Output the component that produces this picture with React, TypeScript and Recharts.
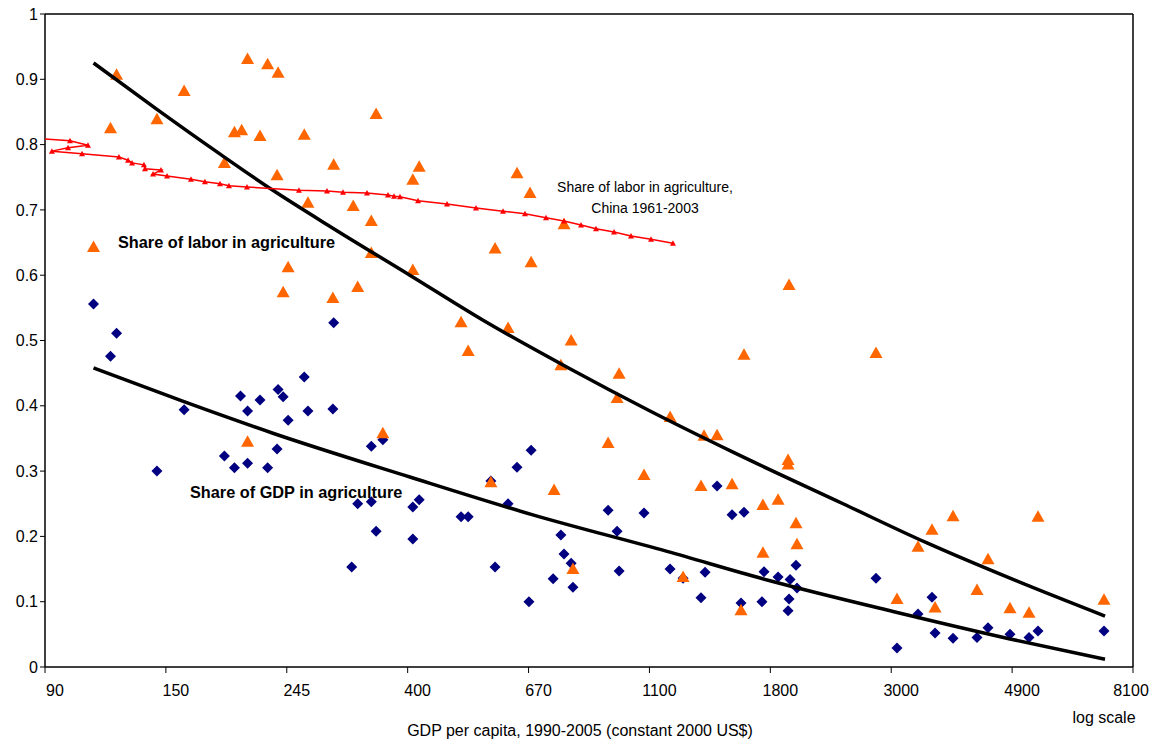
import React from 'react';
import { ScatterChart, Scatter, XAxis, YAxis, ReferenceLine } from 'recharts';

// x axis (log scale), tick labels as printed
const xTickLabels = ['90', '150', '245', '400', '670', '1100', '1800', '3000', '4900', '8100'];
const X_MIN = 90;
const X_MAX = 8100;
const xTicks = xTickLabels.map((_, i) => X_MIN * Math.pow(X_MAX / X_MIN, i / (xTickLabels.length - 1)));
const yTicks = [0, 0.1, 0.2, 0.3, 0.4, 0.5, 0.6, 0.7, 0.8, 0.9, 1];

// [GDP per capita, share of labor in agriculture]
const laborPoints: [number, number][] = [
  [110, 0.643], [118, 0.825], [121, 0.907], [143, 0.839], [160, 0.882], [189, 0.772], [197, 0.819],
  [203, 0.822], [208, 0.931], [208, 0.345], [219, 0.813], [226, 0.923], [235, 0.753], [236, 0.91],
  [241, 0.574], [246, 0.612], [263, 0.815], [267, 0.711], [296, 0.565], [297, 0.769], [322, 0.706],
  [328, 0.582], [347, 0.683], [347, 0.634], [354, 0.847], [364, 0.358], [412, 0.746], [412, 0.608],
  [423, 0.766], [503, 0.528], [518, 0.484], [569, 0.283], [579, 0.641], [611, 0.519], [634, 0.756],
  [669, 0.726], [672, 0.62], [739, 0.271], [760, 0.462], [770, 0.678], [793, 0.5], [799, 0.15],
  [924, 0.343], [959, 0.412], [967, 0.449], [1072, 0.294], [1194, 0.383], [1260, 0.138], [1357, 0.277],
  [1374, 0.354], [1450, 0.355], [1543, 0.28], [1601, 0.087], [1621, 0.478], [1753, 0.248], [1753, 0.175],
  [1866, 0.256], [1945, 0.317], [1945, 0.31], [1953, 0.585], [2010, 0.22], [2018, 0.188], [2798, 0.481],
  [3052, 0.104], [3329, 0.184], [3527, 0.21], [3572, 0.091], [3848, 0.231], [4249, 0.118], [4447, 0.165],
  [4870, 0.09], [5269, 0.083], [5468, 0.23], [7185, 0.103],
];

// [GDP per capita, share of GDP in agriculture]
const gdpPoints: [number, number][] = [
  [110, 0.556], [118, 0.476], [121, 0.511], [143, 0.3], [160, 0.394], [189, 0.323], [197, 0.305],
  [202, 0.415], [208, 0.392], [208, 0.312], [219, 0.409], [226, 0.305], [235, 0.334], [236, 0.425],
  [241, 0.414], [246, 0.378], [263, 0.444], [267, 0.392], [296, 0.395], [297, 0.527], [320, 0.153],
  [328, 0.25], [347, 0.338], [347, 0.253], [354, 0.208], [364, 0.348], [412, 0.245], [412, 0.196],
  [423, 0.256], [503, 0.23], [518, 0.23], [569, 0.285], [579, 0.153], [611, 0.25], [634, 0.306],
  [666, 0.1], [672, 0.332], [736, 0.135], [760, 0.202], [770, 0.173], [793, 0.159], [799, 0.122],
  [924, 0.24], [959, 0.208], [967, 0.147], [1072, 0.236], [1194, 0.15], [1260, 0.136], [1357, 0.106],
  [1380, 0.145], [1450, 0.277], [1543, 0.233], [1601, 0.098], [1621, 0.237], [1746, 0.1], [1761, 0.146],
  [1866, 0.138], [1945, 0.086], [1953, 0.104], [1961, 0.134], [2010, 0.156], [2018, 0.121], [2798, 0.136],
  [3052, 0.029], [3329, 0.081], [3527, 0.107], [3572, 0.052], [3848, 0.044], [4249, 0.045], [4447, 0.06],
  [4870, 0.05], [5269, 0.045], [5468, 0.055], [7185, 0.055],
];

// China 1961-2003, in year order (GDP per capita, labor share)
const chinaPoints: [number, number][] = [
  [88.2, 0.809], [99.8, 0.806], [107.5, 0.799], [99, 0.795], [92.6, 0.79], [104.9, 0.786], [122.2, 0.781],
  [126.9, 0.776], [129, 0.772], [135.5, 0.769], [136.1, 0.763], [145.4, 0.761], [140.7, 0.755], [149.1, 0.752],
  [164.6, 0.747], [174.4, 0.743], [185.6, 0.74], [192.6, 0.737], [207.5, 0.735], [257.3, 0.73], [288.9, 0.729],
  [308.7, 0.727], [340.9, 0.726], [371.8, 0.723], [381.2, 0.721], [390.7, 0.72], [421, 0.714], [474.6, 0.709],
  [535.1, 0.703], [598.3, 0.698], [655.2, 0.694], [714.7, 0.688], [769.9, 0.683], [826.1, 0.677], [878.9, 0.671],
  [946.9, 0.666], [1015.8, 0.66], [1103.5, 0.655], [1208.4, 0.649],
];

// trend curves
const laborTrend: [number, number][] = [
  [110, 0.925], [143, 0.854], [186, 0.785], [231, 0.73], [296, 0.672], [407, 0.6], [551, 0.531],
  [780, 0.459], [1099, 0.392], [1549, 0.329], [2442, 0.25], [3455, 0.19], [4870, 0.136], [7215, 0.078],
];
const gdpTrend: [number, number][] = [
  [110, 0.458], [159, 0.407], [231, 0.358], [407, 0.291], [677, 0.233], [1179, 0.177], [1805, 0.132],
  [3002, 0.085], [4870, 0.043], [7215, 0.012],
];

const toRows = (pts: [number, number][]) => pts.map(([x, y]) => ({ x, y }));

const Triangle = ({ cx, cy }: any) => (
  <path d={`M${cx},${cy - 6.5} L${cx + 6.5},${cy + 5} L${cx - 6.5},${cy + 5} Z`} fill="#FF6600" />
);
const Diamond = ({ cx, cy }: any) => (
  <path d={`M${cx},${cy - 5.5} L${cx + 5.5},${cy} L${cx},${cy + 5.5} L${cx - 5.5},${cy} Z`} fill="#000080" />
);
const SmallTriangle = ({ cx, cy }: any) => (
  <path d={`M${cx},${cy - 3} L${cx + 3},${cy + 2.5} L${cx - 3},${cy + 2.5} Z`} fill="#FF0000" />
);
const NoDot = () => <g />;

const XTick = ({ x, y, index }: any) => {
  const last = index === xTickLabels.length - 1;
  return (
    <text x={x + (last ? -2 : 10)} y={y} dy={21} textAnchor="middle" fontSize={16} fill="#000">
      {xTickLabels[index]}
    </text>
  );
};

const font = 'Liberation Sans, Arial, sans-serif';

export default function App() {
  return (
    <div style={{ position: 'absolute', left: 0, top: 0, width: 1156, height: 744, background: '#fff', fontFamily: font }}>
      <ScatterChart width={1156} height={744} margin={{ top: 14, right: 23, bottom: 47, left: 0 }}>
        <XAxis
          type="number"
          dataKey="x"
          scale="log"
          domain={[X_MIN, X_MAX]}
          allowDataOverflow
          ticks={xTicks}
          interval={0}
          height={30}
          tickSize={6}
          tick={<XTick />}
          axisLine={{ stroke: '#000', strokeWidth: 1.5 }}
          tickLine={{ stroke: '#000' }}
        />
        <YAxis
          type="number"
          dataKey="y"
          domain={[0, 1]}
          ticks={yTicks}
          interval={0}
          width={45}
          tickSize={5}
          tick={{ fontSize: 16, fill: '#000', fontFamily: font }}
          axisLine={{ stroke: '#000', strokeWidth: 1.5 }}
          tickLine={{ stroke: '#000' }}
        />
        <ReferenceLine y={1} stroke="#000" strokeWidth={1.5} />
        <ReferenceLine x={X_MAX} stroke="#000" strokeWidth={1.5} />
        <Scatter data={toRows(gdpPoints)} shape={<Diamond />} isAnimationActive={false} />
        <Scatter data={toRows(laborPoints)} shape={<Triangle />} isAnimationActive={false} />
        <Scatter
          data={toRows(laborTrend)}
          shape={<NoDot />}
          line={{ stroke: '#000', strokeWidth: 3.5 }}
          lineType="joint"
          lineJointType="monotoneX"
          isAnimationActive={false}
        />
        <Scatter
          data={toRows(gdpTrend)}
          shape={<NoDot />}
          line={{ stroke: '#000', strokeWidth: 3.5 }}
          lineType="joint"
          lineJointType="monotoneX"
          isAnimationActive={false}
        />
        <Scatter
          data={toRows(chinaPoints)}
          shape={<SmallTriangle />}
          line={{ stroke: '#FF0000', strokeWidth: 1.5 }}
          lineType="joint"
          isAnimationActive={false}
        />
      </ScatterChart>
      <svg width={1156} height={744} style={{ position: 'absolute', left: 0, top: 0, pointerEvents: 'none' }}>
        <g fontFamily={font} fill="#000">
          <text x={118} y={248} fontSize={16.3} fontWeight="bold">Share of labor in agriculture</text>
          <text x={190} y={498} fontSize={16.3} fontWeight="bold">Share of GDP in agriculture</text>
          <text x={645} y={192} fontSize={14} textAnchor="middle">Share of labor in agriculture,</text>
          <text x={645} y={213} fontSize={14} textAnchor="middle">China 1961-2003</text>
          <text x={580} y={736} fontSize={16} textAnchor="middle">GDP per capita, 1990-2005 (constant 2000 US$)</text>
          <text x={1104} y={723} fontSize={16} textAnchor="middle">log scale</text>
        </g>
      </svg>
    </div>
  );
}
